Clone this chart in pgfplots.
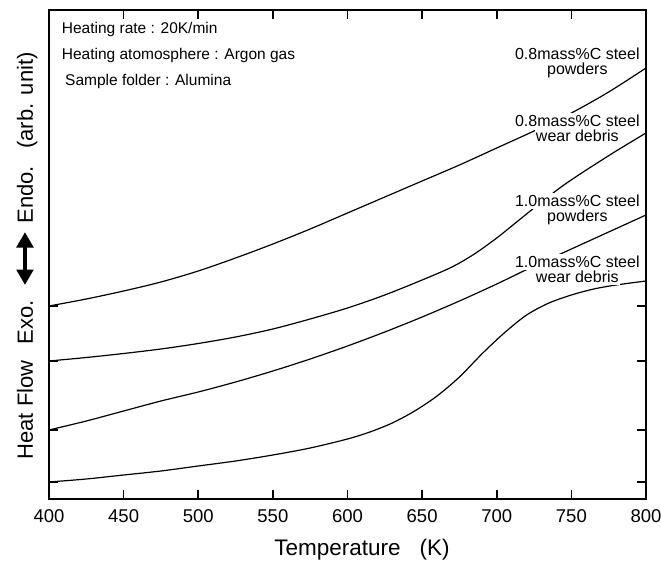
\documentclass[border=0pt]{standalone}
\usepackage{fontspec}
\setmainfont{Liberation Sans}
\usepackage{pgfplots}
\pgfplotsset{compat=1.18}
\usetikzlibrary{arrows.meta}

% curves, y in pixel-like units above the bottom axis line
\pgfplotstableread{
T    y
400  193
425  200
450  208
475  217
500  228
525  241
550  255
575  270
600  286
625  302
650  318
675  334
700  351
725  368
750  386
775  407
800  431
}\powdersA
\pgfplotstableread{
T    y
400  138
425  141.5
450  145.5
475  150
500  155.5
525  162
550  170
575  180
600  191
625  204
650  219
670  232
685  245
700  261
715  279
730  297
745  314
760  329
780  348
800  366
}\debrisA
\pgfplotstableread{
T    y
400  69
425  78
450  88
475  98
500  107
525  117
550  128
575  140
600  153
625  167
650  182
675  198
700  215
725  233
750  250
775  267
800  284
}\powdersB
\pgfplotstableread{
T    y
400  17
425  20
450  24
475  28
500  33
525  38
550  44
575  51
600  60
615  67
630  76
645  88
660  103
675  122
690  145
705  166
720  184
735  196
750  204
765  210
780  214
800  218
}\debrisB

\newcommand\lbl{\fontsize{16bp}{16bp}\selectfont}
\newcommand\note{\fontsize{15.5bp}{15.5bp}\selectfont}

\begin{document}
\begin{tikzpicture}
\begin{axis}[
  name=ax,
  scale only axis,
  width=597bp, height=489bp,
  xmin=400, xmax=800, ymin=0, ymax=489,
  axis line style={line width=1.2bp},
  xtick={400,450,...,800},
  ytick={17,69,138,193}, yticklabels={},
  tick align=inside,
  major tick length=9bp,
  xtick style={black, line width=1.6bp},
  ytick style={black, line width=1.2bp},
  /pgf/number format/assume math mode=true,
  xticklabel style={font=\fontsize{18.5bp}{18.5bp}\selectfont, anchor=base, yshift=-23bp},
  xlabel={Temperature\hspace{0.85em}(K)},
  xlabel style={at={(axis description cs:0.5,0)}, anchor=base, yshift=-56bp, xshift=14.5bp,
    font=\fontsize{22.5bp}{22.5bp}\selectfont},
  ylabel={Heat Flow\hspace{0.75em}Exo.\hspace{0.6em}\tikz[baseline={(0,-0.36em)}]\draw[line width=0.17em, {Triangle[width=0.75em,length=0.7em]}-{Triangle[width=0.75em,length=0.7em]}] (0,0)--(2.4em,0);\hspace{0.3em}Endo.\hspace{0.8em}(arb. unit)},
  ylabel style={at={(axis description cs:-0.027,0.497)}, anchor=base,
    font=\fontsize{22bp}{22bp}\selectfont},
]
\addplot[black, line width=1.2bp, smooth] table[x=T, y=y] {\powdersA};
\addplot[black, line width=1.2bp, smooth] table[x=T, y=y] {\debrisA};
\addplot[black, line width=1.2bp, smooth] table[x=T, y=y] {\powdersB};
\addplot[black, line width=1.2bp, smooth] table[x=T, y=y] {\debrisB};

\node[anchor=base west, inner sep=0, font=\note] at (axis cs:408.5,465.7) {Heating rate : 20K/min};
\node[anchor=base west, inner sep=0, font=\note] at (axis cs:408.5,439) {Heating atomosphere : Argon gas};
\node[anchor=base west, inner sep=0, font=\note] at (axis cs:410.7,413.3) {Sample folder : Alumina};

\tikzset{lab/.style={anchor=base, fill=white, inner xsep=1bp, inner ysep=2bp, font=\lbl}}
\node[lab] at (axis cs:754,439) {0.8mass\%C steel};
\node[lab] at (axis cs:754,424) {powders};
\node[lab] at (axis cs:754,372) {0.8mass\%C steel};
\node[lab] at (axis cs:754,357) {wear debris};
\node[lab] at (axis cs:754,292) {1.0mass\%C steel};
\node[lab] at (axis cs:754,277) {powders};
\node[lab] at (axis cs:754,231) {1.0mass\%C steel};
\node[lab] at (axis cs:754,216) {wear debris};
\end{axis}
\pgfresetboundingbox
\path ([shift={(-49bp,-64bp)}]ax.south west) rectangle ([shift={(15bp,10bp)}]ax.north east);
\end{tikzpicture}
\end{document}
